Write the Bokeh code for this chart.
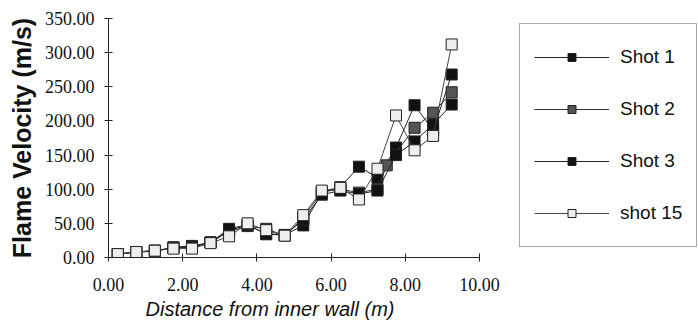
from bokeh.plotting import figure
from bokeh.models import Legend, LegendItem, Range1d, FixedTicker, PrintfTickFormatter, Title
from bokeh.embed import file_html
from bokeh.resources import INLINE

# ---- data ----
series_names = ["Shot 1", "Shot 2", "Shot 3", "shot 15"]
x_shot1 = [0.25, 0.75, 1.25, 1.75, 2.25, 2.75, 3.25, 3.75, 4.25, 4.75, 5.25, 5.75, 6.25, 6.75, 7.25, 7.75, 8.25, 8.75, 9.25]
y_shot1 = [5, 8, 9, 15, 17, 22, 40, 47, 35, 33, 47, 95, 103, 133, 117, 161, 223, 186, 268]
x_shot2 = [0.25, 0.75, 1.25, 1.75, 2.25, 2.75, 3.25, 3.75, 4.25, 4.75, 5.25, 5.75, 6.25, 6.75, 7.25, 7.5, 8.25, 8.75, 9.25]
y_shot2 = [5, 8, 10, 14, 16, 22, 38, 46, 42, 32, 58, 96, 100, 95, 100, 135, 190, 212, 242]
x_shot3 = [0.25, 0.75, 1.25, 1.75, 2.25, 2.75, 3.25, 3.75, 4.25, 4.75, 5.25, 5.75, 6.25, 6.75, 7.25, 7.75, 8.25, 8.75, 9.25]
y_shot3 = [5, 8, 10, 14, 15, 22, 42, 48, 34, 33, 55, 92, 98, 93, 98, 150, 170, 195, 224]
x_shot15 = [0.25, 0.75, 1.25, 1.75, 2.25, 2.75, 3.25, 3.75, 4.25, 4.75, 5.25, 5.75, 6.25, 6.75, 7.25, 7.75, 8.25, 8.75, 9.25]
y_shot15 = [5, 8, 10, 13, 13, 21, 31, 50, 40, 32, 62, 98, 102, 85, 130, 208, 157, 178, 312]
x_ticks = [0, 2, 4, 6, 8, 10]
y_ticks = [0, 50, 100, 150, 200, 250, 300, 350]

p = figure(frame_width=371, frame_height=239, output_backend="svg", toolbar_location=None,
           x_range=Range1d(0, 10), y_range=Range1d(0, 350),
           min_border_left=108, min_border_right=219, min_border_top=18, min_border_bottom=71)
p.outline_line_color = None
p.xgrid.visible = False
p.ygrid.visible = False
p.background_fill_color = "white"
p.border_fill_color = "white"

for ax, ticks in ((p.xaxis[0], x_ticks), (p.yaxis[0], y_ticks)):
    ax.ticker = FixedTicker(ticks=ticks)
    ax.formatter = PrintfTickFormatter(format="%.2f")
    ax.major_tick_in = 4
    ax.major_tick_out = 4
    ax.minor_tick_line_color = None
    ax.axis_line_color = "#222222"
    ax.major_tick_line_color = "#222222"
    ax.major_label_text_font = "Liberation Serif"
    ax.major_label_text_font_size = "18px"
    ax.major_label_text_color = "#111111"

p.xaxis.major_label_standoff = 16
p.yaxis.major_label_standoff = 10
p.yaxis.axis_label = "Flame Velocity (m/s)"
p.yaxis.axis_label_text_font = "Liberation Sans"
p.yaxis.axis_label_text_font_style = "bold"
p.yaxis.axis_label_text_font_size = "25px"
p.yaxis.axis_label_text_color = "#111111"
p.yaxis.axis_label_standoff = 6

# x-axis label as a below-title so it can sit left of the frame centre
xlabel = Title(text="Distance from inner wall (m)", align="left", offset=37,
               text_font="Liberation Sans", text_font_style="italic",
               text_font_size="20px", text_color="#111111", standoff=5)
p.add_layout(xlabel, "below")

styles = [
    (x_shot1, y_shot1, "#111111", "#222222"),
    (x_shot2, y_shot2, "#555555", "#333333"),
    (x_shot3, y_shot3, "#111111", "#222222"),
    (x_shot15, y_shot15, "#eeeeee", "#444444"),
]
items = []
for name, (xs, ys, fill, lc) in zip(series_names, styles):
    ln = p.line(xs, ys, line_color=lc, line_width=1)
    sc = p.scatter(xs, ys, marker="square", size=11, fill_color=fill,
                   line_color="#222222", line_width=1)
    items.append(LegendItem(label=name, renderers=[ln, sc]))

legend = Legend(items=items, location=(40, 10), orientation="vertical",
                glyph_width=75, glyph_height=20, label_height=38,
                label_standoff=11, spacing=14, padding=14, margin=0,
                label_text_font="Liberation Sans", label_text_font_size="19px",
                label_text_color="#111111",
                border_line_color="#555555", border_line_width=1,
                background_fill_color="white", background_fill_alpha=1.0)
p.add_layout(legend, "right")

open("out.html", "w").write(file_html(p, INLINE))
